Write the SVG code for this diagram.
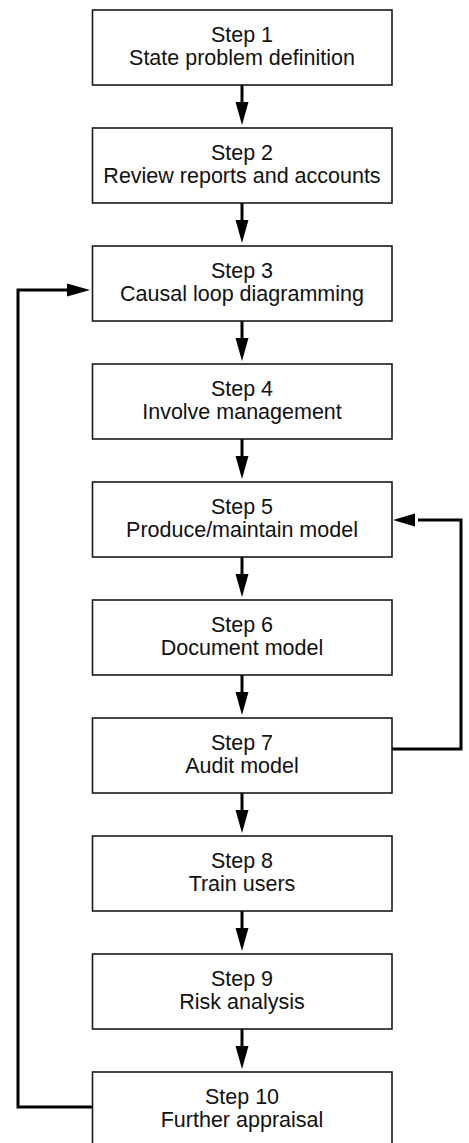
<svg xmlns="http://www.w3.org/2000/svg" width="469" height="1143" viewBox="0 0 469 1143">
<style>
.box{fill:#fff;stroke:#1a1a1a;stroke-width:1.6}
.t{font-family:"Liberation Sans",Arial,sans-serif;font-size:21.5px;fill:#111;text-anchor:middle}
.c{fill:none;stroke:#000;stroke-width:3}
.ah{fill:#000}
</style>
<rect width="469" height="1143" fill="#fff"/>
<g id="connectors">
<line class="c" x1="242" y1="85" x2="242" y2="105"/><polygon class="ah" points="235.5,102 248.5,102 242,125"/>
<line class="c" x1="242" y1="203" x2="242" y2="223"/><polygon class="ah" points="235.5,220 248.5,220 242,243"/>
<line class="c" x1="242" y1="321" x2="242" y2="341"/><polygon class="ah" points="235.5,338 248.5,338 242,361"/>
<line class="c" x1="242" y1="439" x2="242" y2="459"/><polygon class="ah" points="235.5,456 248.5,456 242,479"/>
<line class="c" x1="242" y1="557" x2="242" y2="577"/><polygon class="ah" points="235.5,574 248.5,574 242,597"/>
<line class="c" x1="242" y1="675" x2="242" y2="695"/><polygon class="ah" points="235.5,692 248.5,692 242,715"/>
<line class="c" x1="242" y1="793" x2="242" y2="813"/><polygon class="ah" points="235.5,810 248.5,810 242,833"/>
<line class="c" x1="242" y1="911" x2="242" y2="931"/><polygon class="ah" points="235.5,928 248.5,928 242,951"/>
<line class="c" x1="242" y1="1029" x2="242" y2="1049"/><polygon class="ah" points="235.5,1046 248.5,1046 242,1069"/>
<polyline class="c" points="92,1107 18,1107 18,290 70,290"/><polygon class="ah" points="67,283.5 67,296.5 90,290"/>
<polyline class="c" points="392,749 461,749 461,520 418,520"/><polygon class="ah" points="415,513.5 415,526.5 393,520"/>
</g>
<g id="step1"><rect class="box" x="92.5" y="10" width="299.5" height="75"/><text class="t" x="242" y="42">Step 1</text><text class="t" x="242" y="65">State problem definition</text></g>
<g id="step2"><rect class="box" x="92.5" y="128" width="299.5" height="75"/><text class="t" x="242" y="159.5">Step 2</text><text class="t" x="242" y="182.5">Review reports and accounts</text></g>
<g id="step3"><rect class="box" x="92.5" y="246" width="299.5" height="75"/><text class="t" x="242" y="277.5">Step 3</text><text class="t" x="242" y="300.5">Causal loop diagramming</text></g>
<g id="step4"><rect class="box" x="92.5" y="364" width="299.5" height="75"/><text class="t" x="242" y="395.5">Step 4</text><text class="t" x="242" y="418.5">Involve management</text></g>
<g id="step5"><rect class="box" x="92.5" y="482" width="299.5" height="75"/><text class="t" x="242" y="513.5">Step 5</text><text class="t" x="242" y="536.5">Produce/maintain model</text></g>
<g id="step6"><rect class="box" x="92.5" y="600" width="299.5" height="75"/><text class="t" x="242" y="631.5">Step 6</text><text class="t" x="242" y="654.5">Document model</text></g>
<g id="step7"><rect class="box" x="92.5" y="718" width="299.5" height="75"/><text class="t" x="242" y="749.5">Step 7</text><text class="t" x="242" y="772.5">Audit model</text></g>
<g id="step8"><rect class="box" x="92.5" y="836" width="299.5" height="75"/><text class="t" x="242" y="867.5">Step 8</text><text class="t" x="242" y="890.5">Train users</text></g>
<g id="step9"><rect class="box" x="92.5" y="954" width="299.5" height="75"/><text class="t" x="242" y="985.5">Step 9</text><text class="t" x="242" y="1008.5">Risk analysis</text></g>
<g id="step10"><rect class="box" x="92.5" y="1072" width="299.5" height="75"/><text class="t" x="242" y="1103.5">Step 10</text><text class="t" x="242" y="1126.5">Further appraisal</text></g>
</svg>
